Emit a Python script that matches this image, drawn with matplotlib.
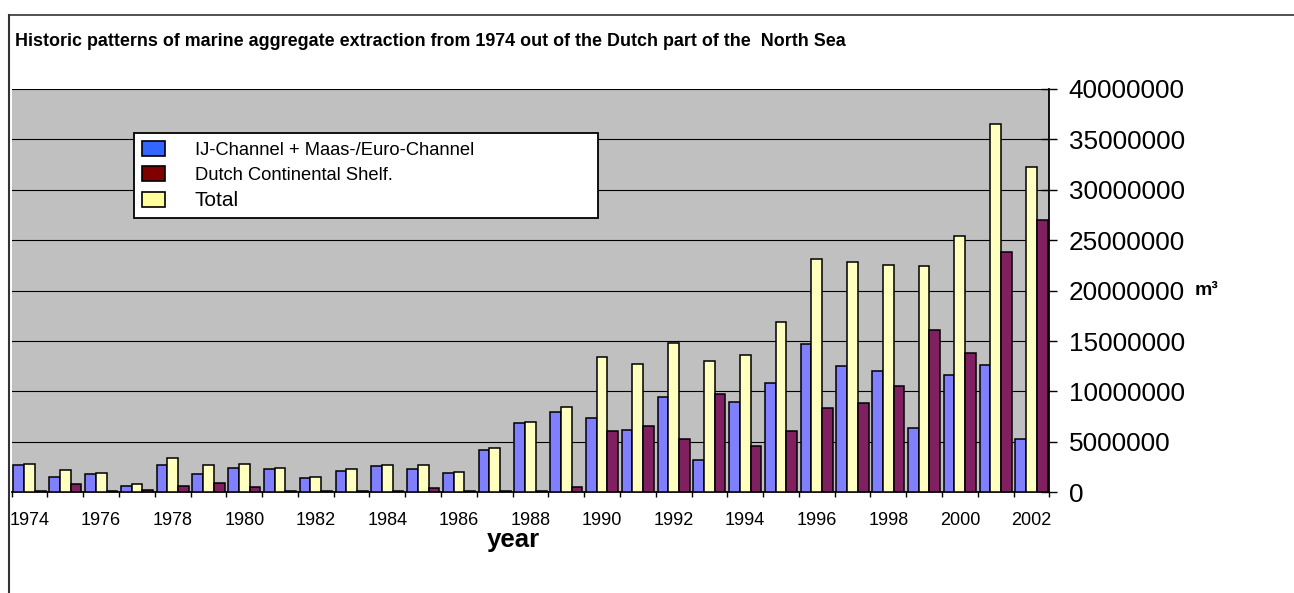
import numpy as np
import matplotlib
matplotlib.use("Agg")
import matplotlib.pyplot as plt
from matplotlib.patches import Patch
from matplotlib.lines import Line2D
from matplotlib.ticker import FixedLocator, StrMethodFormatter

plt.rcParams['font.family'] = ['Liberation Sans', 'DejaVu Sans']

# data (m3 per year)
years = list(range(1974, 2003))
ij_channel = [2680000, 1490000, 1820000, 630000, 2710000, 1820000, 2380000, 2280000,
              1390000, 2120000, 2580000, 2350000, 1900000, 4200000, 6850000, 7950000,
              7350000, 6190000, 9460000, 3200000, 9000000, 10800000, 14700000, 12500000,
              12000000, 6400000, 11600000, 12600000, 5300000]
shelf = [150000, 800000, 80000, 200000, 660000, 950000, 560000, 100000,
         80000, 80000, 80000, 430000, 100000, 100000, 100000, 560000,
         6090000, 6600000, 5260000, 9760000, 4600000, 6060000, 8370000, 8900000,
         10500000, 16050000, 13800000, 23800000, 27000000]
total = [2810000, 2210000, 1920000, 800000, 3380000, 2680000, 2840000, 2380000,
         1520000, 2310000, 2680000, 2710000, 2000000, 4370000, 6980000, 8470000,
         13400000, 12770000, 14800000, 13070000, 13600000, 16850000, 23100000, 22800000,
         22500000, 22400000, 25450000, 36500000, 32300000]
labels = ['IJ-Channel + Maas-/Euro-Channel', 'Dutch Continental Shelf.', 'Total']

W, H = 1294, 593
fig = plt.figure(figsize=(W / 100, H / 100), dpi=100)
fig.patch.set_facecolor('white')

# plot area in pixels
x0, x1, y0, y1 = 11.7, 1049.3, 89.0, 492.3
ax = fig.add_axes([x0 / W, 1 - y1 / H, (x1 - x0) / W, (y1 - y0) / H])
ax.set_facecolor('#C0C0C0')

x = np.arange(len(years))
bw = 0.3
ax.bar(x - bw, ij_channel, bw, color='#8080FF', edgecolor='black', linewidth=1.1, zorder=3)
ax.bar(x, total, bw, color='#FFFFC0', edgecolor='black', linewidth=1.1, zorder=3)
ax.bar(x + bw, shelf, bw, color='#802060', edgecolor='black', linewidth=1.1, zorder=3)

ax.set_xlim(-0.5, len(years) - 0.5)
ax.set_ylim(0, 40000000)
ax.set_yticks(np.arange(0, 40000001, 5000000))
ax.yaxis.set_major_formatter(StrMethodFormatter('{x:.0f}'))
ax.yaxis.tick_right()
ax.tick_params(axis='y', direction='inout', length=12, width=1, pad=8,
               labelsize=18.8, colors='black')
ax.yaxis.grid(True, color='black', linewidth=0.8, zorder=1)
ax.set_axisbelow(True)

# year labels every second year, ticks between categories
ax.set_xticks(x[::2])
ax.set_xticklabels([str(y) for y in years[::2]])
ax.xaxis.set_minor_locator(FixedLocator(np.arange(-0.5, len(years), 1.0)))
ax.tick_params(axis='x', which='major', length=0, pad=14, labelsize=13)
ax.tick_params(axis='x', which='minor', length=3.6, width=1, direction='out')

for s in ['left', 'top']:
    ax.spines[s].set_visible(False)
ax.spines['right'].set_linewidth(1.3)
ax.spines['bottom'].set_linewidth(1.3)

ax.set_xlabel('year', fontsize=18.5, fontweight='bold')
ax.xaxis.set_label_coords((513 - x0) / (x1 - x0), -(540 - y1) / (y1 - y0))
ax.xaxis.label.set_va('center')

ax.yaxis.set_label_position('right')
ax.set_ylabel('m³', fontsize=14, fontweight='bold', rotation=0, ha='center', va='center')
ax.yaxis.set_label_coords((1207 - x0) / (x1 - x0), (y1 - 290) / (y1 - y0))

handles = [Patch(facecolor='#3366FF', edgecolor='black', linewidth=1.2),
           Patch(facecolor='#800000', edgecolor='black', linewidth=1.2),
           Patch(facecolor='#FFFF99', edgecolor='black', linewidth=1.2)]
leg = ax.legend(handles, labels, loc='upper left',
                bbox_to_anchor=(134 / W, 1 - 219 / H, 464 / W, 86 / H),
                bbox_transform=fig.transFigure, mode='expand', borderaxespad=0,
                fontsize=13.2, frameon=True, fancybox=False, framealpha=1,
                handlelength=1.22, handleheight=0.83, handletextpad=1.65,
                labelspacing=0.4, borderpad=0.45)
leg.get_frame().set_edgecolor('black')
leg.get_frame().set_linewidth(1.3)
leg.get_texts()[2].set_fontsize(15)

fig.text(15 / W, 1 - 41 / H,
         'Historic patterns of marine aggregate extraction from 1974 out of the Dutch part of the  North Sea',
         fontsize=12.9, fontweight='bold', va='center', ha='left')

# outer chart frame (top and left edges visible)
fig.add_artist(Line2D([9 / W, 1], [1 - 15 / H, 1 - 15 / H], color='#333333', linewidth=1.2))
fig.add_artist(Line2D([9 / W, 9 / W], [0, 1 - 15 / H], color='#333333', linewidth=1.5))

fig.savefig('out.png', dpi=100)
